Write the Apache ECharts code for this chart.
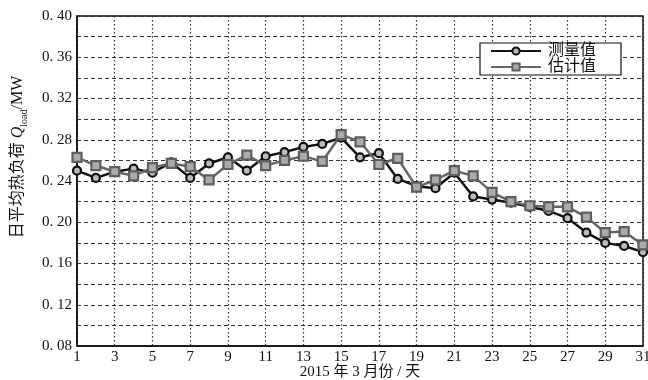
<!DOCTYPE html>
<html><head><meta charset="utf-8">
<script src="https://cdn.jsdelivr.net/npm/echarts@6/dist/echarts.min.js"></script>
<style>html,body{margin:0;padding:0;background:#fff}#c{width:648px;height:380px}</style>
</head><body><div id="c"></div>
<script>
const days = [1,2,3,4,5,6,7,8,9,10,11,12,13,14,15,16,17,18,19,20,21,22,23,24,25,26,27,28,29,30,31];
const measured = [0.250,0.243,0.249,0.252,0.248,0.258,0.243,0.257,0.263,0.250,0.264,0.268,0.273,0.276,0.282,0.263,0.267,0.242,0.235,0.233,0.248,0.225,0.222,0.219,0.215,0.211,0.204,0.190,0.180,0.177,0.171];
const estimated = [0.263,0.255,0.249,0.245,0.253,0.257,0.254,0.241,0.256,0.265,0.255,0.260,0.264,0.259,0.285,0.278,0.256,0.262,0.234,0.241,0.250,0.245,0.229,0.220,0.216,0.215,0.215,0.205,0.190,0.191,0.178];
const seriesNames = ['测量值','估计值'];
const xTitle = '2015 年 3 月份 / 天';

const FONT = '"Liberation Serif","Noto Sans CJK SC",serif';
const chart = echarts.init(document.getElementById('c'));
chart.setOption({
  animation:false,
  backgroundColor:'#fff',
  grid:{left:77,right:5,top:16,bottom:34,show:true,borderColor:'#111',borderWidth:1.5,backgroundColor:'transparent',
        outerBoundsMode:'none',containLabel:false},
  legend:{
    left:480, top:43, orient:'vertical', itemWidth:50, itemHeight:9, itemGap:0,
    padding:[0,25,0,10], borderColor:'#111', borderWidth:1.2, backgroundColor:'#fff',
    textStyle:{fontFamily:FONT,fontSize:16,color:'#111',padding:[0,0,0,2],lineHeight:14,height:14},
    data:seriesNames
  },
  xAxis:{
    type:'value', min:1, max:31, interval:2,
    name:xTitle, nameLocation:'middle', nameGap:19, nameMoveOverlap:false,
    nameTextStyle:{fontFamily:FONT,fontSize:15,color:'#111',lineHeight:15,verticalAlign:'top'},
    axisLine:{show:true,lineStyle:{color:'#111',width:1.5}},
    axisTick:{show:false},
    axisLabel:{fontFamily:FONT,fontSize:15,color:'#111',margin:4},
    splitLine:{show:true,lineStyle:{color:'#333',type:[1.5,2.5],width:1.2}}
  },
  yAxis:{
    type:'value', min:0.08, max:0.40, interval:0.02,
    axisLine:{show:true,lineStyle:{color:'#111',width:1.5}},
    axisTick:{show:false},
    axisLabel:{fontFamily:FONT,fontSize:15,color:'#111',margin:5,
      formatter:function(v){const k=Math.round(v*100); if(k%4!==0) return ''; return '0. '+(k<10?'0'+k:k);}},
    splitLine:{show:true,lineStyle:{color:'#333',type:[4,3],width:1.2}}
  },
  graphic:[{
    type:'text', x:18, y:157, rotation:Math.PI/2,
    style:{
      text:'{a|日平均热负荷 }{q|Q}{s|load}{a|/MW}',
      align:'center', verticalAlign:'middle', fill:'#111',
      rich:{
        a:{fontFamily:FONT,fontSize:16,fill:'#111',lineHeight:22},
        q:{fontFamily:FONT,fontSize:16,fontStyle:'italic',fill:'#111',lineHeight:22},
        s:{fontFamily:FONT,fontSize:10,fill:'#111',lineHeight:22,verticalAlign:'bottom',padding:[6,0,0,0]}
      }
    }
  }],
  series:[
    {name:seriesNames[0],type:'line',data:days.map((d,i)=>[d,measured[i]]),
     symbol:'circle',symbolSize:8,clip:false,
     lineStyle:{color:'#111',width:2.5},
     itemStyle:{color:'#bbb',borderColor:'#111',borderWidth:2.2}},
    {name:seriesNames[1],type:'line',data:days.map((d,i)=>[d,estimated[i]]),
     symbol:'rect',symbolSize:9,clip:false,
     lineStyle:{color:'#666',width:2.5},
     itemStyle:{color:'#aaa',borderColor:'#5e5e5e',borderWidth:2.2}}
  ]
});
</script></body></html>
